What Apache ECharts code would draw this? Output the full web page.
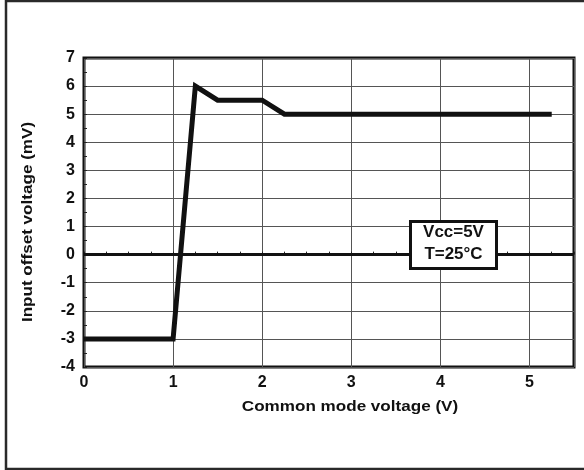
<!DOCTYPE html>
<html>
<head>
<meta charset="utf-8">
<script src="https://cdn.jsdelivr.net/npm/echarts@6/dist/echarts.min.js"></script>
<style>
html,body{margin:0;padding:0;background:#fff;}
#chart{width:584px;height:470px;}
</style>
</head>
<body>
<div id="chart"></div>
<script>
// Data
const commonModeVoltage = [0, 1, 1.25, 1.5, 2, 2.25, 5.25];
const inputOffsetVoltage = [-3, -3, 6, 5.5, 5.5, 5, 5];
const xTickLabels = ['0', '1', '2', '3', '4', '5'];
const yTickLabels = ['-4', '-3', '-2', '-1', '0', '1', '2', '3', '4', '5', '6', '7'];
const xTitle = 'Common mode voltage (V)';
const yTitle = 'Input offset voltage (mV)';
const noteLines = ['Vcc=5V', 'T=25°C'];

const chart = echarts.init(document.getElementById('chart'), null, {renderer: 'canvas'});
const tickFont = {fontFamily: '"Liberation Sans", Arial, sans-serif', fontWeight: 'bold', fontSize: 16, color: '#111'};
const titleFont = 'bold 14px "Liberation Sans", Arial, sans-serif';
const noteFont = 'bold 16px "Liberation Sans", Arial, sans-serif';

const option = {
  backgroundColor: '#fff',
  animation: false,
  grid: {left: 84, right: 10, top: 58, bottom: 103, show: true, borderWidth: 3, borderColor: '#111', backgroundColor: 'transparent'},
  xAxis: [
    {
      type: 'value', min: 0, max: 5.5, interval: 1,
      axisLine: {show: false}, axisTick: {show: false},
      splitLine: {show: true, lineStyle: {color: '#555', width: 1}},
      axisLabel: Object.assign({margin: 8, formatter: v => xTickLabels.includes(String(v)) ? String(v) : ''}, tickFont)
    },
    {
      type: 'value', min: 0, max: 5.5, interval: 0.25, position: 'bottom',
      axisLine: {show: false}, axisLabel: {show: false}, splitLine: {show: false},
      axisTick: {show: true, inside: true, length: 3, lineStyle: {color: '#222', width: 1}}
    }
  ],
  yAxis: [
    {
      type: 'value', min: -4, max: 7, interval: 1,
      axisLine: {show: false}, axisTick: {show: false},
      splitLine: {show: true, lineStyle: {color: '#555', width: 1}},
      axisLabel: Object.assign({margin: 9, formatter: v => yTickLabels.includes(String(v)) ? String(v) : ''}, tickFont)
    },
    {
      type: 'value', min: -4, max: 7, interval: 0.5, position: 'left',
      axisLine: {show: false}, axisLabel: {show: false}, splitLine: {show: false},
      axisTick: {show: true, inside: true, length: 3, lineStyle: {color: '#222', width: 1}}
    }
  ],
  series: [{
    type: 'line',
    data: commonModeVoltage.map((x, i) => [x, inputOffsetVoltage[i]]),
    showSymbol: false, symbol: 'none',
    lineStyle: {color: '#111', width: 5, join: 'miter', cap: 'butt'},
    z: 5,
    markLine: {
      silent: true, symbol: ['none', 'none'], label: {show: false},
      lineStyle: {color: '#111', width: 3, type: 'solid'},
      data: [{yAxis: 0}]
    }
  }],
  graphic: [
    {type: 'rect', z: 200, shape: {x: 6, y: 1, width: 620, height: 468}, style: {fill: 'none', stroke: '#2a2a2a', lineWidth: 2.5}, silent: true},
    {type: 'text', z: 200, x: 350, y: 407, scaleX: 1.22, style: {text: xTitle, font: titleFont, fill: '#111', textAlign: 'center', textVerticalAlign: 'middle'}},
    {type: 'text', z: 200, x: 28, y: 222, rotation: Math.PI / 2, scaleX: 1.22, style: {text: yTitle, font: titleFont, fill: '#111', textAlign: 'center', textVerticalAlign: 'middle'}},
    {type: 'rect', z: 200, shape: {x: 410.5, y: 221.5, width: 86, height: 47}, style: {fill: '#fff', stroke: '#111', lineWidth: 3}},
    {type: 'text', z: 201, x: 453.5, y: 233, scaleX: 1.06, style: {text: noteLines[0], font: noteFont, fill: '#111', textAlign: 'center', textVerticalAlign: 'middle'}},
    {type: 'text', z: 201, x: 453.5, y: 255, scaleX: 1.06, style: {text: noteLines[1], font: noteFont, fill: '#111', textAlign: 'center', textVerticalAlign: 'middle'}}
  ]
};
chart.setOption(option);
</script>
</body>
</html>
